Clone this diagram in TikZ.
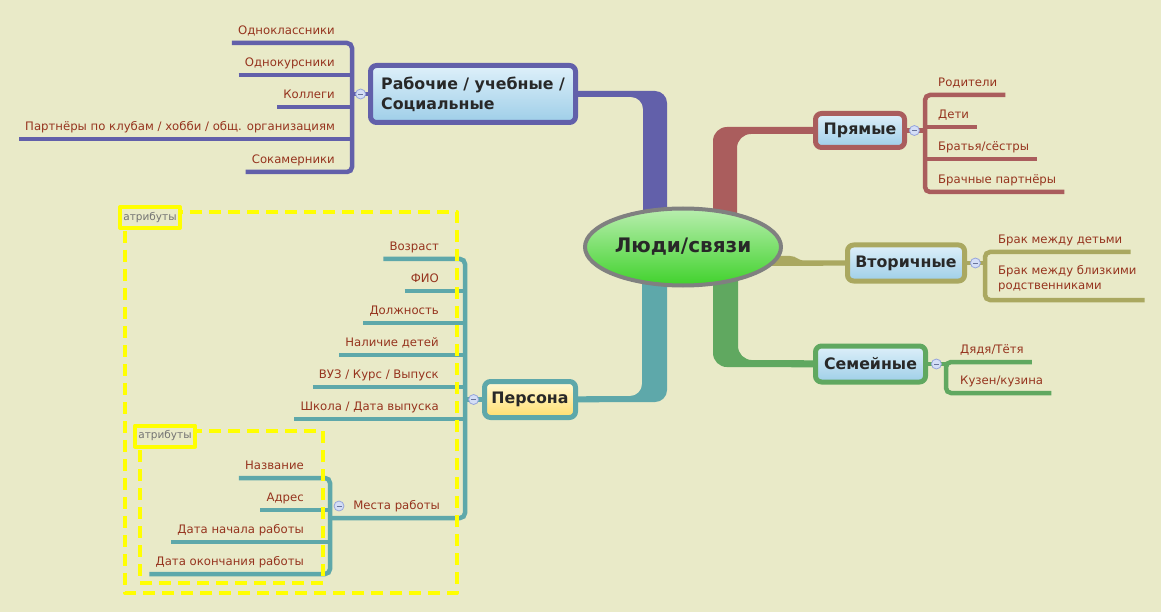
\documentclass[tikz,border=0pt]{standalone}
\usepackage{fontspec}
\setmainfont{DejaVu Sans}
\usetikzlibrary{shapes.geometric,positioning}

\definecolor{bgc}{RGB}{233,234,200}
\definecolor{cWork}{RGB}{98,96,170}
\definecolor{cDirect}{RGB}{170,93,93}
\definecolor{cSecond}{RGB}{170,168,96}
\definecolor{cFamily}{RGB}{96,168,96}
\definecolor{cPerson}{RGB}{94,168,170}
\definecolor{leaftxt}{RGB}{150,52,30}
\definecolor{boxtxt}{RGB}{40,40,40}
\definecolor{boxtop}{RGB}{222,240,250}
\definecolor{boxbot}{RGB}{158,206,232}
\definecolor{persontop}{RGB}{255,250,215}
\definecolor{personbot}{RGB}{255,222,110}
\definecolor{roottop}{RGB}{185,238,175}
\definecolor{rootbot}{RGB}{64,210,44}
\definecolor{rootline}{RGB}{128,128,128}
\definecolor{attr}{RGB}{255,255,0}
\definecolor{minusfill}{RGB}{212,222,246}
\definecolor{minusline}{RGB}{150,165,220}

\pgfdeclarelayer{back}
\pgfdeclarelayer{links}
\pgfsetlayers{back,links,main}

\begin{document}
\begin{tikzpicture}[x=1pt, y=-1pt, line join=round,
    root/.style={ellipse, draw=rootline, line width=4pt, top color=roottop,
      bottom color=rootbot, minimum width=196pt, minimum height=77pt, inner sep=0pt,
      text=boxtxt, font=\bfseries\fontsize{20}{24}\selectfont},
    topic/.style={draw, line width=5pt, rounded corners=6pt, inner sep=0pt,
      top color=boxtop, bottom color=boxbot, text=boxtxt,
      font=\bfseries\fontsize{15.8}{20}\selectfont},
    leafL/.style={anchor=south east, inner sep=0pt, text depth=8pt, text=leaftxt,
      font=\fontsize{11.7}{15}\selectfont},
    leafR/.style={leafL, anchor=south west},
    sub/.style={line width=4.5pt},
    minus/.style={circle, draw=minusline, fill=minusfill, line width=0.8pt,
      minimum size=10pt, inner sep=0pt,
      path picture={\draw[minusline!70!black, line width=0.8pt]
        ([xshift=-2.5pt]path picture bounding box.center) --
        ([xshift=2.5pt]path picture bounding box.center);}},
    attrframe/.style={draw=attr, line width=4pt, dash pattern=on 12pt off 7pt},
    attrlabel/.style={draw=attr, line width=4pt, fill=bgc, inner sep=0pt,
      minimum width=60pt, minimum height=21pt, text=black!55,
      font=\fontsize{10.5}{12}\selectfont}]

  % Background and margins
  \begin{pgfonlayer}{back}
    \fill[bgc] (0,0) rectangle (1161,612);
  \end{pgfonlayer}
  \useasboundingbox (0,0) rectangle (1161,612);

  % Central topic and the main topics
  \node[root] (root) at (683,247) {Люди/связи};
  \node[topic, draw=cWork, minimum width=205pt, minimum height=57pt, align=left]
    (work) at (473,94) {Рабочие / учебные /\\Социальные};
  \node[topic, draw=cDirect, minimum width=89pt, minimum height=34pt]
    (direct) at (860,130.5) {Прямые};
  \node[topic, draw=cSecond, minimum width=117pt, minimum height=36pt]
    (second) at (906,263) {Вторичные};
  \node[topic, draw=cFamily, minimum width=110pt, minimum height=36pt]
    (family) at (870.5,364) {Семейные};
  \node[topic, draw=cPerson, top color=persontop, bottom color=personbot,
    minimum width=91pt, minimum height=36pt] (person) at (530,399.5) {Персона};

  % Thick branches from the central topic (ends hidden under the topics)
  \begin{pgfonlayer}{links}
    \fill[cWork, rounded corners=12pt] ([yshift=3pt]work.center) -- (667,91)
      -- (667,247) -- (643,247) -- (643,97) -- ([yshift=-3pt]work.center) -- cycle;
    \fill[cDirect, rounded corners=14pt] ([yshift=3.5pt]direct.center) -- (713,127)
      -- (713,247) -- (737,247) -- (737,134) -- ([yshift=-3.5pt]direct.center) -- cycle;
    \fill[cPerson, rounded corners=12pt] ([yshift=3pt]person.center) -- (642,396)
      -- (642,247) -- (667,247) -- (667,402) -- ([yshift=-3pt]person.center) -- cycle;
    \fill[cFamily, rounded corners=14pt] ([yshift=3.5pt]family.center) -- (738,360)
      -- (738,247) -- (713,247) -- (713,367) -- ([yshift=-3.5pt]family.center) -- cycle;
    \fill[cSecond] (740,256) -- (790,256) .. controls (797,256) and (797,260.5) .. (805,260.5)
      -- ([yshift=2.5pt]second.center) -- ([yshift=-2.5pt]second.center) -- (740,266) -- cycle;
  \end{pgfonlayer}

  % Рабочие / учебные / Социальные
  \coordinate (brkW) at (352,94);
  \node[leafL] (w1) at (335,43) {Одноклассники};
  \node[leafL] (w2) at (335,75) {Однокурсники};
  \node[leafL] (w3) at (335,107) {Коллеги};
  \node[leafL] (w4) at (335,139) {Партнёры по клубам / хобби / общ. организациям};
  \node[leafL] (w5) at (335,172) {Сокамерники};
  \begin{pgfonlayer}{links}
    \draw[sub, cWork, rounded corners=5pt] ([xshift=-6pt]w1.south west)
      -- (brkW |- w1.south) -- (brkW |- w5.south) -- ([xshift=-6pt]w5.south west);
    \foreach \n in {w2,w3,w4}
      \draw[sub, cWork] ([xshift=-6pt]\n.south west) -- (brkW |- \n.south);
    \draw[sub, cWork] (brkW) -- (work.west);
  \end{pgfonlayer}
  \node[minus, left=2pt of work] (mW) {};

  % Прямые
  \coordinate (brkD) at (925,130.5);
  \node[leafR] (d1) at (938,95) {Родители};
  \node[leafR] (d2) at (938,127) {Дети};
  \node[leafR] (d3) at (938,159) {Братья/сёстры};
  \node[leafR] (d4) at (938,192) {Брачные партнёры};
  \begin{pgfonlayer}{links}
    \draw[sub, cDirect, rounded corners=5pt] ([xshift=8pt]d1.south east)
      -- (brkD |- d1.south) -- (brkD |- d4.south) -- ([xshift=8pt]d4.south east);
    \foreach \n in {d2,d3}
      \draw[sub, cDirect] (brkD |- \n.south) -- ([xshift=8pt]\n.south east);
    \draw[sub, cDirect] (direct.east) -- (brkD);
  \end{pgfonlayer}
  \node[minus, right=2pt of direct] (mD) {};

  % Вторичные
  \coordinate (brkS) at (985,263);
  \node[leafR] (s1) at (998,252) {Брак между детьми};
  \node[leafR, align=left, text depth=10pt] (s2) at (998,300)
    {Брак между близкими\\родственниками};
  \begin{pgfonlayer}{links}
    \draw[sub, cSecond, rounded corners=5pt] ([xshift=8pt]s1.south east)
      -- (brkS |- s1.south) -- (brkS |- s2.south) -- ([xshift=8pt]s2.south east);
    \draw[sub, cSecond] (second.east) -- (brkS);
  \end{pgfonlayer}
  \node[minus, right=3pt of second] (mS) {};

  % Семейные
  \coordinate (brkF) at (946,364);
  \node[leafR] (f1) at (960,362) {Дядя/Тётя};
  \node[leafR] (f2) at (960,393) {Кузен/кузина};
  \begin{pgfonlayer}{links}
    \draw[sub, cFamily, rounded corners=5pt] ([xshift=8pt]f1.south east)
      -- (brkF |- f1.south) -- (brkF |- f2.south) -- ([xshift=8pt]f2.south east);
    \draw[sub, cFamily] (family.east) -- (brkF);
  \end{pgfonlayer}
  \node[minus, right=3pt of family] (mF) {};

  % Персона and its attributes
  \coordinate (brkP) at (465,399.5);
  \coordinate (brkJ) at (330,518);
  \node[leafL] (p1) at (439,259) {Возраст};
  \node[leafL] (p2) at (439,291) {ФИО};
  \node[leafL] (p3) at (439,323) {Должность};
  \node[leafL] (p4) at (439,355) {Наличие детей};
  \node[leafL] (p5) at (439,387) {ВУЗ / Курс / Выпуск};
  \node[leafL] (p6) at (439,419) {Школа / Дата выпуска};
  \node[leafL] (jobs) at (440,518) {Места работы};
  \node[leafL] (j1) at (304,478) {Название};
  \node[leafL] (j2) at (304,510) {Адрес};
  \node[leafL] (j3) at (304,542) {Дата начала работы};
  \node[leafL] (j4) at (304,574) {Дата окончания работы};
  \begin{pgfonlayer}{links}
    \draw[sub, cPerson, rounded corners=5pt] ([xshift=-6pt]p1.south west)
      -- (brkP |- p1.south) -- (brkP |- jobs.south) -- (brkJ);
    \foreach \n in {p2,p3,p4,p5,p6}
      \draw[sub, cPerson] ([xshift=-6pt]\n.south west) -- (brkP |- \n.south);
    \draw[sub, cPerson] (brkP) -- (person.west);
    \draw[sub, cPerson, rounded corners=5pt] ([xshift=-6pt]j1.south west)
      -- (brkJ |- j1.south) -- (brkJ |- j4.south) -- ([xshift=-6pt]j4.south west);
    \foreach \n in {j2,j3}
      \draw[sub, cPerson] ([xshift=-6pt]\n.south west) -- (brkJ |- \n.south);
  \end{pgfonlayer}
  \node[minus, left=3pt of person] (mP) {};
  \node[minus] (mJ) at (339,506) {};

  % Attribute frames
  \draw[attrframe] (125,212) rectangle (457,593);
  \draw[attrframe] (140,431) rectangle (323,583);
  \node[attrlabel] (attrP) at (150,217.5) {атрибуты};
  \node[attrlabel] (attrJ) at (165,436) {атрибуты};

\end{tikzpicture}
\end{document}
